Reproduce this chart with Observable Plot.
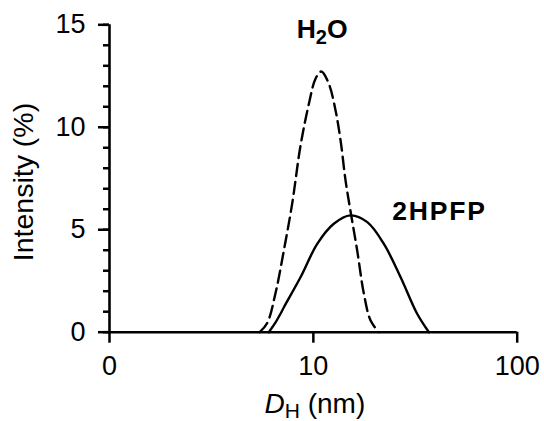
<!DOCTYPE html>
<html><head><meta charset="utf-8">
<script src="https://cdn.jsdelivr.net/npm/d3@7"></script>
<script src="https://cdn.jsdelivr.net/npm/@observablehq/plot@0.6"></script>
<style>body{margin:0;background:#fff} svg{display:block}</style>
</head><body><div id="chart"></div>
<script>
// H2O (dashed) size distribution
const h2oD = [5.45, 5.94, 6.52, 7.17, 7.88, 8.65, 9.51, 10.25, 10.94, 11.91, 12.85, 13.6, 14.39, 15.22, 16.4, 17.7, 19.09, 20.97];
const h2oI = [0, 0.45, 1.9, 4.0, 6.3, 9.1, 11.15, 12.37, 12.72, 12.12, 10.82, 9.36, 7.4, 5.9, 4.0, 1.87, 0.57, 0];
// 2HPFP (solid) size distribution
const hpfpD = [6.05, 6.5, 6.9, 7.17, 8.65, 10.45, 12.6, 15.2, 18.39, 22.18, 26.8, 32.3, 36.9];
const hpfpI = [0, 0.45, 0.9, 1.22, 2.68, 4.31, 5.29, 5.70, 5.37, 4.31, 2.68, 0.9, 0];

const xTicks = [1, 10, 100];
const xTickLabels = ["0", "10", "100"];
const yMajorTicks = [0, 5, 10, 15];
const yMinorTicks = [0, 1, 2, 3, 4, 5, 6, 7, 8, 9, 10, 11, 12, 13, 14, 15];
const yLabel = "Intensity (%)";
const hpfpLabel = "2HPFP";
// label anchor positions (data space)
const h2oLabelPos = {x: 11.1, y: 14.32};
const hpfpLabelPos = {x: 24.4, y: 5.9};

const h2o = h2oD.map((d, i) => ({d, v: h2oI[i]}));
const hpfp = hpfpD.map((d, i) => ({d, v: hpfpI[i]}));

const font = "'Liberation Sans', Arial, Helvetica, sans-serif";

const plot = Plot.plot({
  width: 544,
  height: 421,
  marginLeft: 109,
  marginRight: 27.3,
  marginTop: 24.3,
  marginBottom: 89.3,
  style: {fontFamily: font, fontSize: "27px", color: "black", background: "white", overflow: "visible"},
  x: {type: "log", domain: [1, 100]},
  y: {domain: [0, 15]},
  marks: [
    Plot.axisY({ticks: yMinorTicks, tickSize: 6, text: null, strokeWidth: 2.5, label: null}),
    Plot.axisY({ticks: yMajorTicks, tickSize: 11, tickPadding: 13, strokeWidth: 2.5, label: null, fontSize: 27}),
    Plot.axisX({ticks: xTicks, tickSize: 11, tickPadding: 13, strokeWidth: 2.5, label: null, fontSize: 27,
      tickFormat: d => xTickLabels[xTicks.indexOf(d)]}),
    Plot.ruleX([1], {y1: 0, y2: 15, strokeWidth: 2.6}),
    Plot.ruleY([0], {x1: 1, x2: 100, strokeWidth: 2.6}),
    Plot.line(h2o, {x: "d", y: "v", curve: "catmull-rom", stroke: "black", strokeWidth: 2.4, strokeDasharray: "12,6"}),
    Plot.line(hpfp, {x: "d", y: "v", curve: "catmull-rom", stroke: "black", strokeWidth: 2.4}),
    Plot.text([hpfpLabelPos], {x: "x", y: "y", text: () => hpfpLabel, textAnchor: "start", fontWeight: "bold", fontSize: 26.5, fill: "black"}),
    Plot.text([yLabel], {frameAnchor: "left", textAnchor: "middle", rotate: -90, dx: -86, dy: 3.5, fontSize: 28.5, fill: "black"})
  ]
});

document.getElementById("chart").appendChild(plot);

const sx = plot.scale("x"), sy = plot.scale("y");
const svg = d3.select(plot);

// slightly wider spacing for the 2HPFP label, as in the reference
svg.selectAll("text").filter(function () { return this.textContent === hpfpLabel; })
  .attr("letter-spacing", "1.8px");

// H2O label with subscript
const t1 = svg.append("text")
  .attr("x", sx.apply(h2oLabelPos.x)).attr("y", sy.apply(h2oLabelPos.y))
  .attr("text-anchor", "middle").attr("font-family", font)
  .attr("font-weight", "bold").attr("font-size", 26.5).attr("fill", "black");
t1.append("tspan").text("H");
t1.append("tspan").attr("font-size", 20).attr("dy", 6).text("2");
t1.append("tspan").attr("dy", -6).text("O");

// x axis label D_H (nm)
const frameMid = (sx.apply(1) + sx.apply(100)) / 2;
const t2 = svg.append("text")
  .attr("x", frameMid + 2).attr("y", 413)
  .attr("text-anchor", "middle").attr("font-family", font)
  .attr("font-size", 28).attr("fill", "black");
t2.append("tspan").attr("font-style", "italic").text("D");
t2.append("tspan").attr("font-size", 21).attr("dy", 5).text("H");
t2.append("tspan").attr("dy", -5).text(" (nm)");
</script>
</body></html>
